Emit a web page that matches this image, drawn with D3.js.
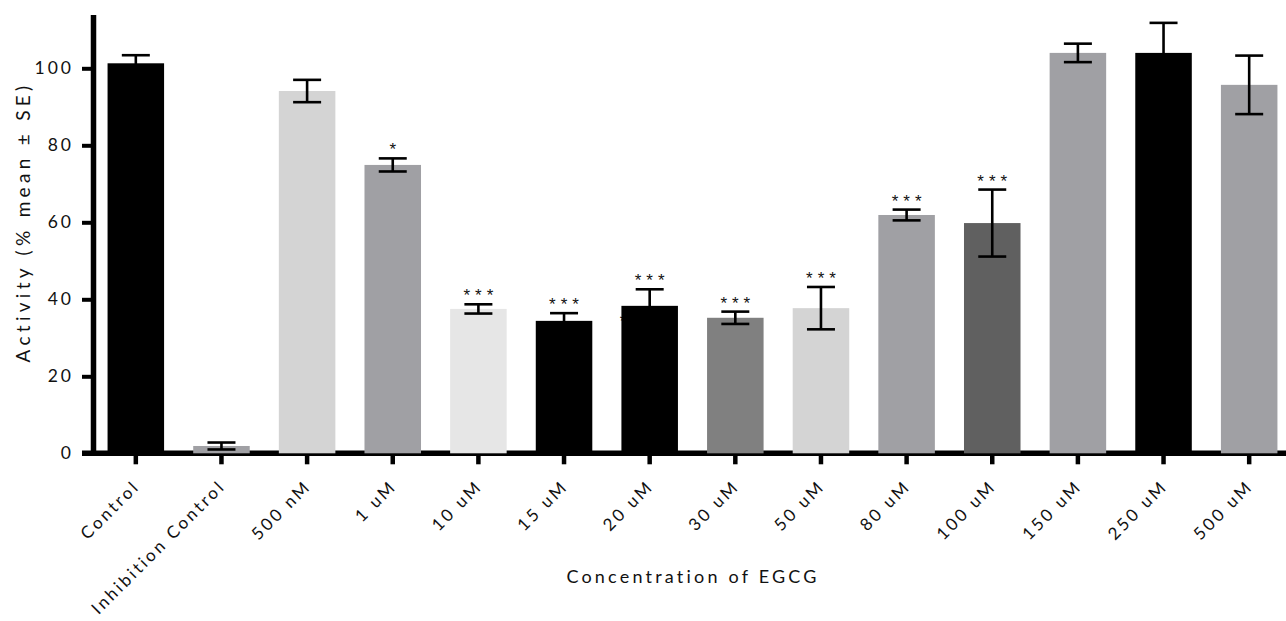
<!DOCTYPE html>
<html>
<head>
<meta charset="utf-8">
<script src="https://cdn.jsdelivr.net/npm/d3@7"></script>
<style>
  body { margin: 0; background: #fff; }
  text { font-family: Lato, "Open Sans", sans-serif; fill: #111; }
</style>
</head>
<body>
<svg id="chart" width="1286" height="621"></svg>
<script>
// EGCG dose series: activity as % of control, mean ± SE
const categories = ["Control", "Inhibition Control", "500 nM", "1 uM", "10 uM", "15 uM", "20 uM",
                    "30 uM", "50 uM", "80 uM", "100 uM", "150 uM", "250 uM", "500 uM"];
const means  = [101.3, 1.9, 94.1, 74.9, 37.5, 34.4, 38.3, 35.2, 37.7, 61.9, 59.8, 104.0, 104.0, 95.7];
const errors = [2.1, 0.9, 2.9, 1.7, 1.2, 2.0, 4.3, 1.6, 5.5, 1.4, 8.7, 2.4, 7.8, 7.6];
const significance = ["", "", "", "*", "***", "***", "***", "***", "***", "***", "***", "", "", ""];
const fills = ["#000000", "#a0a0a4", "#d4d4d4", "#a0a0a4", "#e6e6e6", "#000000", "#000000",
               "#808080", "#d4d4d4", "#a0a0a4", "#606060", "#a0a0a4", "#000000", "#a0a0a4"];
const yTicks = [0, 20, 40, 60, 80, 100];

const svg = d3.select("#chart");

const x = d3.scaleBand()
  .domain(categories)
  .range([93, 1292])
  .paddingInner(0.34)
  .paddingOuter(0.17);

const y = d3.scaleLinear().domain([0, 114]).range([453.3, 14.4]);

// baseline running the full width
svg.append("line")
  .attr("x1", 82).attr("x2", 1286)
  .attr("y1", y(0)).attr("y2", y(0))
  .attr("stroke", "#000").attr("stroke-width", 5.5);

// y axis
const yAxis = svg.append("g")
  .attr("transform", "translate(93,0)")
  .call(d3.axisLeft(y).tickValues(yTicks).tickSize(11).tickSizeOuter(0).tickPadding(8));
yAxis.select(".domain").attr("stroke", "#000").attr("stroke-width", 5.5);
yAxis.selectAll(".tick line").attr("stroke", "#000").attr("stroke-width", 4);
yAxis.selectAll(".tick text")
  .style("font-size", "17.5px").style("letter-spacing", "3px").attr("fill", "#111");

// x axis ticks and rotated labels
const xAxis = svg.append("g")
  .attr("transform", `translate(0,${y(0)})`)
  .call(d3.axisBottom(x).tickSize(11).tickSizeOuter(0));
xAxis.select(".domain").remove();
xAxis.selectAll(".tick line").attr("stroke", "#000").attr("stroke-width", 4.5);
xAxis.selectAll(".tick text")
  .attr("text-anchor", "end")
  .attr("x", 0).attr("y", 0).attr("dy", "0")
  .attr("transform", "translate(5,34) rotate(-45)")
  .style("font-size", "17px").style("letter-spacing", "2.8px").attr("fill", "#111");

const starFont = "'Liberation Sans', Arial, sans-serif";

// stray asterisk tucked behind the 20 uM bar
svg.append("text")
  .attr("x", x("20 uM") + 5).attr("y", y(34.4) + 6)
  .attr("text-anchor", "end")
  .style("font-family", starFont)
  .style("font-size", "17px")
  .text("*");

// bars
svg.append("g").selectAll("rect")
  .data(categories)
  .join("rect")
  .attr("x", d => x(d))
  .attr("width", x.bandwidth())
  .attr("y", (d, i) => y(means[i]))
  .attr("height", (d, i) => y(0) - y(means[i]))
  .attr("fill", (d, i) => fills[i]);

// error bars
const capHalf = 14;
const eb = svg.append("g").attr("stroke", "#000").attr("stroke-width", 2.6);
categories.forEach((c, i) => {
  const cx = x(c) + x.bandwidth() / 2;
  const hi = y(means[i] + errors[i]);
  const lo = y(means[i] - errors[i]);
  eb.append("line").attr("x1", cx).attr("x2", cx).attr("y1", hi).attr("y2", lo);
  eb.append("line").attr("x1", cx - capHalf).attr("x2", cx + capHalf).attr("y1", hi).attr("y2", hi);
  eb.append("line").attr("x1", cx - capHalf).attr("x2", cx + capHalf).attr("y1", lo).attr("y2", lo);
});

// significance markers
svg.append("g").selectAll("text")
  .data(categories)
  .join("text")
  .attr("x", d => x(d) + x.bandwidth() / 2 + 2.5)
  .attr("y", (d, i) => y(means[i] + errors[i]) - 3)
  .attr("text-anchor", "middle")
  .style("font-family", starFont)
  .style("font-size", "17px")
  .style("letter-spacing", "5px")
  .attr("fill", "#222")
  .text((d, i) => significance[i]);

// axis titles
svg.append("text")
  .attr("transform", "translate(30,222) rotate(-90)")
  .attr("text-anchor", "middle")
  .style("font-size", "19px").style("letter-spacing", "4.3px")
  .text("Activity (% mean ± SE)");

svg.append("text")
  .attr("x", 693).attr("y", 583)
  .attr("text-anchor", "middle")
  .style("font-size", "18px").style("letter-spacing", "3.2px")
  .text("Concentration of EGCG");
</script>
</body>
</html>
